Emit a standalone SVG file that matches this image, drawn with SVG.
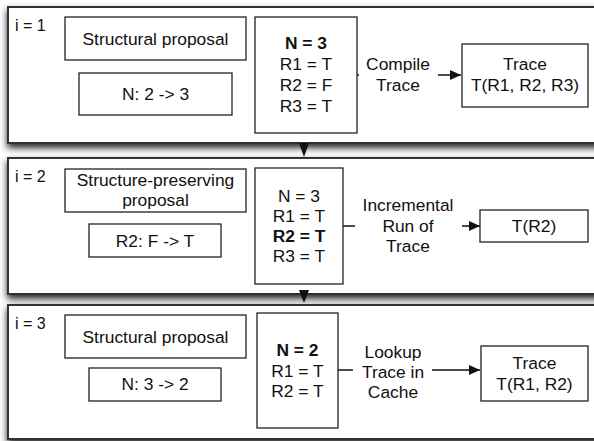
<svg xmlns="http://www.w3.org/2000/svg" width="594" height="441" viewBox="0 0 594 441">
<style>
text{font-family:"Liberation Sans",Arial,sans-serif;font-size:17.4px;fill:#111;text-anchor:middle}
.idx{font-size:16px;text-anchor:start}
.b{font-weight:bold}
.panel{fill:#fff;stroke:#333;stroke-width:2}
.box{fill:#fff;stroke:#222;stroke-width:1.3}
.conn{stroke:#111;stroke-width:1.3;fill:none}
.lbg{fill:#fff}
</style>
<defs>
<filter id="sh" x="-10%" y="-20%" width="120%" height="150%">
<feDropShadow dx="0" dy="4" stdDeviation="3.5" flood-color="#000" flood-opacity="0.85"/>
</filter>
<marker id="ah" markerWidth="11" markerHeight="10" refX="11" refY="5" orient="auto" markerUnits="userSpaceOnUse">
<path d="M0,0 L11,5 L0,10 Z" fill="#111"/>
</marker>
</defs>
<rect width="594" height="441" fill="#fff"/>

<g id="panel1">
<rect class="panel" x="8" y="7" width="600" height="136" filter="url(#sh)"/>
<text class="idx" x="15" y="31">i = 1</text>
</g>
<g id="panel2">
<rect class="panel" x="8" y="158" width="600" height="136" filter="url(#sh)"/>
<text class="idx" x="15" y="182">i = 2</text>
</g>
<g id="panel3">
<rect class="panel" x="8" y="305" width="600" height="134" filter="url(#sh)"/>
<text class="idx" x="15" y="329">i = 3</text>
</g>

<g id="connectors">
<polygon points="299,143 309,143 304,157" fill="#111"/>
<polygon points="299,290 309,290 304,303" fill="#111"/>
<line class="conn" x1="357" y1="75" x2="461" y2="75" marker-end="url(#ah)"/>
<line class="conn" x1="343" y1="226" x2="480" y2="226" marker-end="url(#ah)"/>
<line class="conn" x1="338" y1="370" x2="480" y2="370" marker-end="url(#ah)"/>
<rect class="lbg" x="359" y="55" width="79" height="42"/>
<text x="398" y="70">Compile</text>
<text x="398" y="91">Trace</text>
<rect class="lbg" x="355" y="195" width="107" height="62"/>
<text x="408" y="211">Incremental</text>
<text x="408" y="232">Run of</text>
<text x="408" y="252">Trace</text>
<rect class="lbg" x="353" y="343" width="79" height="60"/>
<text x="393" y="358">Lookup</text>
<text x="393" y="378">Trace in</text>
<text x="393" y="398">Cache</text>
</g>

<g id="p1-proposal">
<rect class="box" x="65" y="17" width="181" height="43"/>
<text x="155.5" y="44.5">Structural proposal</text>
</g>
<g id="p1-change">
<rect class="box" x="79" y="73" width="153" height="42"/>
<text x="155.5" y="99.5">N: 2 -&gt; 3</text>
</g>
<g id="p1-state">
<rect class="box" x="255" y="17" width="102" height="116"/>
<text class="b" x="306" y="49">N = 3</text>
<text x="306" y="70">R1 = T</text>
<text x="306" y="91">R2 = F</text>
<text x="306" y="112">R3 = T</text>
</g>
<g id="p1-trace">
<rect class="box" x="462" y="44" width="126" height="63"/>
<text x="525" y="70">Trace</text>
<text x="525" y="91">T(R1, R2, R3)</text>
</g>

<g id="p2-proposal">
<rect class="box" x="65" y="169" width="181" height="43"/>
<text x="155.5" y="186">Structure-preserving</text>
<text x="155.5" y="206">proposal</text>
</g>
<g id="p2-change">
<rect class="box" x="89" y="224" width="132" height="33"/>
<text x="155" y="246.5">R2: F -&gt; T</text>
</g>
<g id="p2-state">
<rect class="box" x="255" y="168" width="88" height="116"/>
<text x="299" y="202">N = 3</text>
<text x="299" y="222">R1 = T</text>
<text class="b" x="299" y="242">R2 = T</text>
<text x="299" y="262">R3 = T</text>
</g>
<g id="p2-trace">
<rect class="box" x="480" y="210" width="108" height="32"/>
<text x="534" y="232">T(R2)</text>
</g>

<g id="p3-proposal">
<rect class="box" x="65" y="315" width="181" height="43"/>
<text x="155.5" y="342.5">Structural proposal</text>
</g>
<g id="p3-change">
<rect class="box" x="89" y="368" width="132" height="33"/>
<text x="155" y="390">N: 3 -&gt; 2</text>
</g>
<g id="p3-state">
<rect class="box" x="257" y="313" width="81" height="115"/>
<text class="b" x="297.5" y="356">N = 2</text>
<text x="297.5" y="376.5">R1 = T</text>
<text x="297.5" y="396.5">R2 = T</text>
</g>
<g id="p3-trace">
<rect class="box" x="481" y="346" width="107" height="55"/>
<text x="534.5" y="369">Trace</text>
<text x="534.5" y="389.5">T(R1, R2)</text>
</g>
</svg>
